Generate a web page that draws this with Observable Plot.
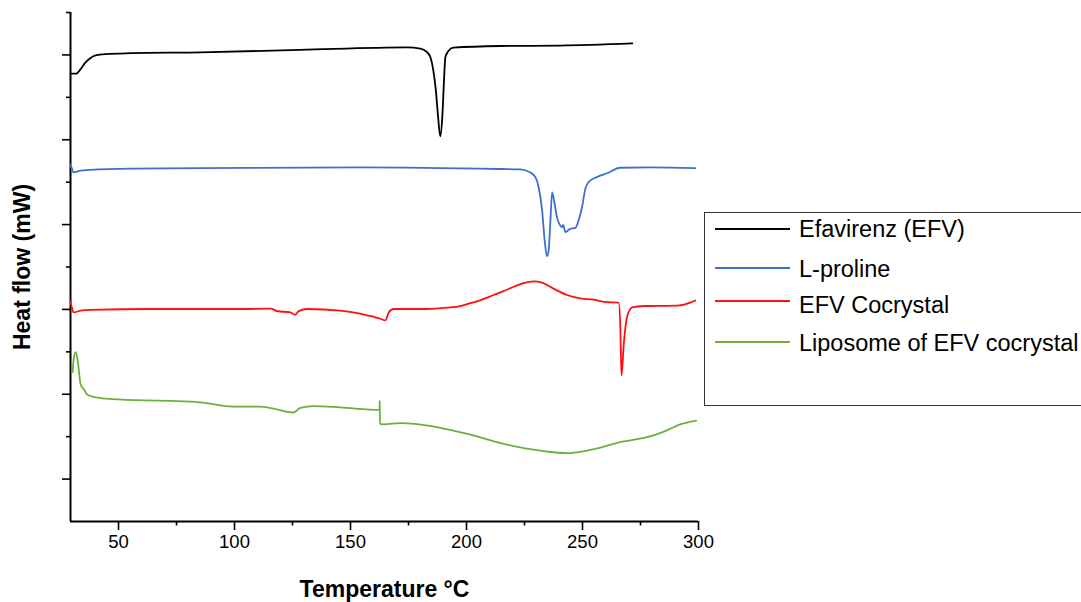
<!DOCTYPE html>
<html>
<head>
<meta charset="utf-8">
<script src="https://cdn.jsdelivr.net/npm/d3@7"></script>
<script src="https://cdn.jsdelivr.net/npm/@observablehq/plot@0.6"></script>
<style>
html, body { margin: 0; padding: 0; background: #fff; overflow: hidden; }
#wrap { position: relative; width: 1081px; height: 602px; font-family: "Liberation Sans", Arial, sans-serif; }
#legend { position: absolute; left: 704px; top: 212px; width: 420px; height: 194px; border: 1px solid #333; background: #fff; box-sizing: border-box; }
.item { position: absolute; left: 10px; height: 30px; display: flex; align-items: center; }
.sw { width: 75px; height: 2px; margin-right: 9px; }
.lab { font-size: 23.5px; color: #000; white-space: nowrap; line-height: 30px; }
</style>
</head>
<body>
<div id="wrap"></div>
<script>
// ---- data (temperature °C, heat flow in arbitrary offset units) ----
const seriesNames = ["Efavirenz (EFV)", "L-proline", "EFV Cocrystal", "Liposome of EFV cocrystal"];
const seriesColors = ["#000000", "#3d6fd1", "#ff1010", "#6aaf3f"];

const efvT = [29.3,31.9,33.6,35.4,37.5,40.1,44.4,55.2,85.3,128.4,174.4,180.1,182.7,184.4,185.7,186.8,187.7,188.7,189.6,190.2,190.9,192.2,194.3,214.6,240.4,271.5];
const efvY = [10.56,10.56,10.66,10.80,10.91,10.99,11.02,11.04,11.06,11.12,11.18,11.15,11.08,10.95,10.63,10.16,9.57,9.08,9.57,10.28,10.95,11.09,11.17,11.21,11.22,11.27];

const proT = [29.3,29.9,30.6,32.8,37.9,55.2,85.3,154.3,214.6,223.2,227.5,229.7,231.1,232.6,233.7,234.7,235.4,236.1,236.9,237.6,239.0,240.4,241.1,241.7,242.6,244.7,246.9,248.3,249.8,251.2,252.6,256.2,260.6,266.3,279.2,298.6];
const proY = [8.42,8.32,8.23,8.26,8.29,8.32,8.33,8.35,8.31,8.30,8.23,8.12,7.88,7.33,6.62,6.25,6.39,7.02,7.76,7.61,7.17,6.98,6.94,6.99,6.82,6.90,6.92,7.10,7.41,7.84,8.00,8.12,8.21,8.34,8.35,8.33];

const cocT = [29.3,29.9,30.6,33.6,37.9,63.8,102.6,115.5,118.4,124.1,126.0,127.7,131.3,145.6,157.2,162.9,165.0,166.5,168.6,183.0,191.6,197.4,201.7,204.5,211.7,218.9,224.6,228.9,232.5,237.5,243.3,249.1,254.8,260.6,265.6,266.3,266.8,267.8,269.2,271.4,276.4,290.8,296.5,298.6];
const cocY = [5.19,5.04,4.93,4.97,4.99,5.01,5.01,5.02,4.96,4.93,4.87,4.96,5.01,4.97,4.86,4.78,4.74,4.93,5.01,5.01,5.04,5.08,5.15,5.19,5.34,5.50,5.62,5.66,5.63,5.49,5.34,5.26,5.23,5.17,5.16,4.58,3.44,4.19,4.82,5.05,5.08,5.09,5.16,5.21];

const lipT = [30.2,30.6,31.5,32.4,33.6,35.4,36.6,42.2,50.0,85.3,99.5,111.2,116.9,125.5,128.4,134.1,145.6,162.5,162.6,162.7,164.3,171.5,199.9,216.0,233.2,243.3,251.9,266.3,280.6,286.4,292.1,299.0];
const lipY = [3.52,3.80,3.99,3.80,3.25,3.09,2.99,2.91,2.88,2.81,2.71,2.71,2.66,2.57,2.68,2.72,2.69,2.63,2.85,2.30,2.29,2.32,2.07,1.83,1.66,1.61,1.67,1.87,2.03,2.15,2.29,2.38];

const xMajorTicks = [50, 100, 150, 200, 250, 300];
const xMinorTicks = [75, 125, 175, 225, 275];
const yMajorTicks = [1, 3, 5, 7, 9, 11];
const yMinorTicks = [2, 4, 6, 8, 10, 12];
const xLabel = "Temperature °C";
const yLabel = "Heat flow (mW)";

// ---- build table ----
const temps = [efvT, proT, cocT, lipT];
const vals = [efvY, proY, cocY, lipY];
const rows = seriesNames.flatMap((name, i) => temps[i].map((t, j) => ({series: name, T: t, Y: vals[i][j]})));

const chart = Plot.plot({
  width: 1081,
  height: 602,
  marginLeft: 70,
  marginRight: 383,
  marginTop: 12,
  marginBottom: 81,
  x: {domain: [29.3, 300]},
  y: {domain: [0, 12]},
  color: {domain: seriesNames, range: seriesColors},
  style: {fontFamily: '"Liberation Sans", Arial, sans-serif', fontSize: "18px", color: "#000", background: "#fff"},
  marks: [
    Plot.axisX({ticks: xMajorTicks, tickSize: 9, tickPadding: 4, strokeWidth: 1.6, fontSize: 18.5, label: null, tickFormat: d => String(d)}),
    Plot.axisX({ticks: xMinorTicks, tickSize: 4.5, strokeWidth: 1.6, label: null, tickFormat: () => ""}),
    Plot.axisY({ticks: yMajorTicks, tickSize: 8, strokeWidth: 1.6, label: null, tickFormat: () => ""}),
    Plot.axisY({ticks: yMinorTicks, tickSize: 4, strokeWidth: 1.6, label: null, tickFormat: () => ""}),
    Plot.ruleX([29.3], {stroke: "#000", strokeWidth: 2}),
    Plot.ruleY([0], {stroke: "#000", strokeWidth: 2}),
    Plot.line(rows, {x: "T", y: "Y", z: "series", stroke: "series", strokeWidth: 1.8, curve: "monotone-x"}),
    Plot.text([xLabel], {text: d => d, frameAnchor: "bottom", dy: 68, fontSize: 23, fontWeight: "bold", textAnchor: "middle", lineAnchor: "middle"}),
    Plot.text([yLabel], {text: d => d, frameAnchor: "left", dx: -48, rotate: -90, fontSize: 23, fontWeight: "bold", textAnchor: "middle", lineAnchor: "middle"})
  ]
});

const wrap = document.getElementById("wrap");
wrap.appendChild(chart);

// ---- legend ----
const legend = document.createElement("div");
legend.id = "legend";
const itemTops = [1, 40, 73, 114];
const labelShift = [0, 1, 4, 1];
seriesNames.forEach((name, i) => {
  const item = document.createElement("div");
  item.className = "item";
  item.style.top = itemTops[i] + "px";
  const sw = document.createElement("div");
  sw.className = "sw";
  sw.style.background = seriesColors[i];
  const lab = document.createElement("span");
  lab.className = "lab";
  lab.style.position = "relative";
  lab.style.top = labelShift[i] + "px";
  lab.textContent = name;
  item.appendChild(sw);
  item.appendChild(lab);
  legend.appendChild(item);
});
wrap.appendChild(legend);
</script>
</body>
</html>
